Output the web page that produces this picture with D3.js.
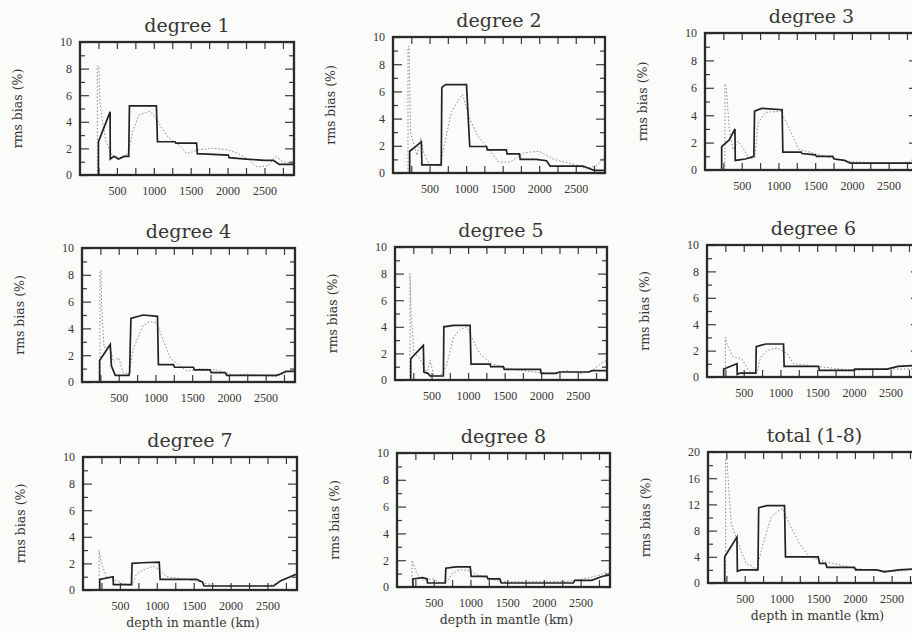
<!DOCTYPE html>
<html>
<head>
<meta charset="utf-8">
<script src="https://cdn.jsdelivr.net/npm/d3@7"></script>
<style>
  body { margin: 0; background: #fbfbfa; }
</style>
</head>
<body>
<div id="grafico"></div>
<script>
// ---- datos: [profundidad km, rms bias %] ----
const deg1Solid = [[250,0],[250,2.5],[408,4.75],[410,1.2],[460,1.4],[520,1.2],[600,1.4],[660,1.4],[670,5.2],[1035,5.2],[1050,2.5],[1290,2.5],[1300,2.4],[1580,2.4],[1590,1.6],[2010,1.5],[2020,1.3],[2250,1.2],[2500,1.1],[2620,1.1],[2700,0.8],[2900,0.8]]
const deg1Dotted = [[235,0],[235,8.2],[255,8.2],[270,5.5],[300,4.2],[350,2.6],[400,1.8],[450,1.4],[550,1.3],[650,1.6],[720,3.4],[800,4.5],[950,4.8],[1050,4.1],[1100,3.6],[1200,2.8],[1350,2.2],[1450,1.6],[1600,1.9],[1800,2.0],[2000,1.9],[2150,1.6],[2300,1.1],[2400,0.6],[2550,0.7],[2650,1.4],[2750,1.0],[2900,0.8]]

const deg2Solid = [[228,0],[228,1.6],[300,1.9],[388,2.3],[395,0.6],[660,0.6],[668,6.3],[720,6.5],[1005,6.5],[1050,1.95],[1280,1.95],[1290,1.7],[1550,1.7],[1560,1.4],[1730,1.4],[1740,1.0],[1960,1.0],[2100,0.9],[2150,0.5],[2600,0.5],[2650,0.4],[2750,0.2],[2900,0.2]]
const deg2Dotted = [[205,0],[205,9.3],[220,9.3],[240,3.0],[280,2.2],[330,1.3],[380,2.6],[420,1.5],[500,0.6],[640,0.5],[700,2.0],[800,4.5],[950,5.8],[1050,4.0],[1150,2.8],[1300,1.8],[1450,0.8],[1600,0.8],[1800,1.5],[2000,1.6],[2200,1.0],[2500,0.6],[2650,0.3],[2800,0.6],[2900,1.2]]

const deg3Solid = [[227,0],[227,1.7],[330,2.2],[408,3.0],[412,0.7],[550,0.8],[665,1.0],[675,4.3],[770,4.5],[1050,4.4],[1060,1.3],[1310,1.3],[1320,1.2],[1500,1.1],[1520,1.0],[1740,1.0],[1760,0.8],[1900,0.7],[1980,0.5],[2900,0.5]]
const deg3Dotted = [[272,0],[272,6.3],[290,6.0],[330,3.0],[380,1.5],[450,2.1],[520,1.6],[600,0.8],[680,0.9],[720,3.4],[820,4.2],[1030,4.3],[1150,3.0],[1280,1.5],[1500,1.2],[1700,0.9],[2000,0.6],[2500,0.5],[2800,0.6],[2900,1.5]]

const deg4Solid = [[240,0],[240,1.6],[385,2.8],[400,1.2],[453,0.5],[640,0.5],[648,0.7],[666,4.75],[830,5.0],[1028,4.9],[1040,1.3],[1246,1.3],[1260,1.1],[1518,1.1],[1530,0.9],[1744,0.9],[1760,0.7],[1950,0.7],[1970,0.5],[2650,0.5],[2700,0.6],[2780,0.8],[2900,0.8]]
const deg4Dotted = [[245,0],[245,8.3],[260,8.3],[265,6.0],[300,2.6],[380,2.6],[430,1.5],[500,1.8],[560,0.7],[640,0.6],[700,2.5],[830,4.2],[920,4.5],[1020,4.4],[1100,3.2],[1200,1.8],[1310,1.3],[1430,0.8],[1610,1.0],[1830,0.9],[2060,0.5],[2240,0.6],[2420,0.5],[2650,0.4],[2780,0.7],[2900,1.0]]

const deg5Solid = [[215,0],[215,1.6],[388,2.6],[395,0.6],[450,0.5],[480,0.3],[662,0.3],[668,4.0],[800,4.1],[1027,4.1],[1040,1.2],[1300,1.2],[1310,1.0],[1480,1.0],[1495,0.8],[1990,0.8],[2000,0.5],[2200,0.5],[2250,0.6],[2650,0.6],[2700,0.7],[2900,0.7]]
const deg5Dotted = [[205,0],[205,8.0],[220,5.0],[260,2.0],[330,1.7],[380,1.2],[440,0.5],[480,1.5],[530,0.3],[620,0.3],[700,1.0],[800,3.2],[890,3.8],[980,4.0],[1050,3.2],[1160,2.0],[1300,1.3],[1440,1.0],[1620,0.8],[1900,0.6],[2150,0.5],[2350,0.7],[2550,0.5],[2700,0.7],[2800,1.2],[2900,1.5]]

const deg6Solid = [[227,0],[227,0.6],[408,1.0],[412,0.2],[450,0.3],[665,0.3],[670,2.3],[800,2.5],[1042,2.5],[1050,0.8],[1518,0.8],[1530,0.5],[1994,0.5],[2010,0.6],[2450,0.6],[2600,0.8],[2900,0.9]]
const deg6Dotted = [[250,0],[250,3.0],[270,2.5],[360,1.5],[470,1.4],[580,0.4],[680,0.3],[730,1.5],[820,2.0],[950,2.2],[1090,1.8],[1180,1.0],[1500,0.8],[2000,0.5],[2500,0.6],[2900,0.6]]

const deg7Solid = [[227,0],[227,0.8],[408,1.0],[412,0.4],[657,0.4],[665,2.0],[800,2.05],[1033,2.1],[1045,0.8],[1540,0.8],[1620,0.6],[1640,0.3],[2583,0.3],[2680,0.7],[2810,1.0],[2900,1.2]]
const deg7Dotted = [[218,0],[218,3.0],[250,2.0],[317,1.0],[408,0.8],[544,0.5],[657,0.3],[725,1.2],[815,1.5],[950,1.8],[1042,1.5],[1133,1.0],[1405,0.8],[1586,0.6],[1813,0.3],[2500,0.3],[2630,0.5],[2765,0.9],[2900,1.3]]

const deg8Solid = [[217,0],[217,0.6],[350,0.7],[410,0.6],[415,0.3],[657,0.3],[665,1.4],[800,1.5],[997,1.5],[1010,0.8],[1223,0.8],[1240,0.6],[1400,0.6],[1420,0.3],[2400,0.3],[2420,0.5],[2650,0.5],[2800,0.8],[2900,0.9]]
const deg8Dotted = [[205,0],[205,2.0],[270,1.0],[360,0.5],[500,0.6],[590,0.3],[680,0.4],[750,1.0],[860,1.3],[1000,1.2],[1090,0.9],[1270,0.6],[1400,0.4],[2300,0.4],[2540,0.6],[2770,0.9],[2860,1.2]]

const totalSolid = [[227,0],[227,4.0],[394,7.0],[400,1.8],[450,2.0],[680,2.0],[690,11.5],[800,11.8],[1042,11.8],[1055,4.0],[1500,4.0],[1518,3.0],[1600,3.0],[1620,2.4],[1994,2.4],[2010,2.0],[2300,2.0],[2400,1.7],[2600,2.0],[2900,2.2]]
const totalDotted = [[240,0],[240,19.0],[255,19.0],[317,9.0],[430,5.5],[520,3.0],[610,2.5],[655,1.8],[750,6.0],[860,10.0],[950,11.0],[1020,11.3],[1110,9.0],[1245,6.0],[1380,4.0],[1515,3.5],[1700,3.0],[1925,2.4],[2150,2.0],[2600,1.8],[2900,2.2]]

const titulos = ["degree 1","degree 2","degree 3","degree 4","degree 5","degree 6","degree 7","degree 8","total (1-8)"]
const xTickLabels = [500, 1000, 1500, 2000, 2500]
const xTicks = [250, 500, 750, 1000, 1250, 1500, 1750, 2000, 2250, 2500, 2750]
const yLabels10 = [0, 2, 4, 6, 8, 10]
const yLabels20 = [0, 4, 8, 12, 16, 20]

// Dimensiones / posiciones de cada recuadro (escaneo algo irregular)
const cajas = [
  {x: 80,  y: 42,  w: 214, h: 133},
  {x: 393, y: 37,  w: 212, h: 136},
  {x: 705, y: 33,  w: 213, h: 137},
  {x: 82,  y: 248, w: 213, h: 134},
  {x: 395, y: 247, w: 212, h: 133},
  {x: 707, y: 245, w: 213, h: 132},
  {x: 83,  y: 457, w: 214, h: 133},
  {x: 397, y: 453, w: 213, h: 134},
  {x: 708, y: 452, w: 213, h: 131},
]
const series = [
  [deg1Solid, deg1Dotted], [deg2Solid, deg2Dotted], [deg3Solid, deg3Dotted],
  [deg4Solid, deg4Dotted], [deg5Solid, deg5Dotted], [deg6Solid, deg6Dotted],
  [deg7Solid, deg7Dotted], [deg8Solid, deg8Dotted], [totalSolid, totalDotted],
]

const tinta = "#363636"

const svg = d3.select("#grafico").append("svg")
  .attr("width", 912)
  .attr("height", 633)

const drawPanel = (i) => {
  const c = cajas[i]
  const esTotal = i === 8
  const yMax = esTotal ? 20 : 10
  const yMajor = esTotal ? yLabels20 : yLabels10
  const yMinor = d3.range(0, yMax + 0.1, esTotal ? 2 : 1).filter(v => !yMajor.includes(v))

  const g = svg.append("g").attr("transform", `translate(${c.x}, ${c.y})`)

  const x = d3.scaleLinear().domain([0, 2900]).range([0, c.w])
  const y = d3.scaleLinear().domain([0, yMax]).range([c.h, 0])

  // Ejes
  g.append("g").attr("transform", `translate(0,${c.h})`)
    .call(d3.axisBottom(x).tickValues(xTicks).tickSizeInner(-7).tickSizeOuter(0).tickPadding(11)
      .tickFormat(d => xTickLabels.includes(d) ? d : ""))
  g.append("g")
    .call(d3.axisTop(x).tickValues(xTicks).tickSizeInner(-7).tickSizeOuter(0).tickFormat(""))
  g.append("g")
    .call(d3.axisLeft(y).tickValues(yMajor).tickSizeInner(-9).tickSizeOuter(0).tickPadding(8))
  g.append("g")
    .call(d3.axisLeft(y).tickValues(yMinor).tickSizeInner(-5).tickSizeOuter(0).tickFormat(""))
  g.append("g").attr("transform", `translate(${c.w},0)`)
    .call(d3.axisRight(y).tickValues(yMajor).tickSizeInner(-9).tickSizeOuter(0).tickFormat(""))
  g.append("g").attr("transform", `translate(${c.w},0)`)
    .call(d3.axisRight(y).tickValues(yMinor).tickSizeInner(-5).tickSizeOuter(0).tickFormat(""))
  g.selectAll(".domain").remove()
  g.selectAll(".tick line").attr("stroke", "#3a3a3a").attr("stroke-width", 1.2)
  g.selectAll(".tick text")
    .attr("font-family", "'Liberation Serif', serif")
    .attr("font-size", 12)
    .attr("fill", tinta)

  // Lineas
  const linea = d3.line().x(d => x(d[0])).y(d => y(d[1]))
  g.append("path")
    .attr("d", linea(series[i][1]))
    .attr("fill", "none")
    .attr("stroke", "#8a8a8a")
    .attr("stroke-width", 1)
    .attr("stroke-dasharray", "1.5,2")
  g.append("path")
    .attr("d", linea(series[i][0]))
    .attr("fill", "none")
    .attr("stroke", "#222")
    .attr("stroke-width", 1.7)

  // Marco
  g.append("rect")
    .attr("width", c.w)
    .attr("height", c.h)
    .attr("fill", "none")
    .attr("stroke", "#2a2a2a")
    .attr("stroke-width", 2.3)

  // Titulo
  g.append("text")
    .attr("x", c.w / 2)
    .attr("y", -10)
    .attr("text-anchor", "middle")
    .attr("font-family", "'DejaVu Serif', serif")
    .attr("font-size", 19)
    .attr("fill", tinta)
    .text(titulos[i])

  // Etiqueta eje y
  g.append("text")
    .attr("transform", `translate(-62, ${c.h / 2}) rotate(-90)`)
    .attr("text-anchor", "middle")
    .attr("dy", "0.35em")
    .attr("font-family", "'DejaVu Serif', serif")
    .attr("font-size", 12.5)
    .attr("fill", tinta)
    .text("rms bias (%)")

  // Etiqueta eje x (solo fila inferior)
  if (i >= 6) {
    g.append("text")
      .attr("x", c.w / 2 + 3)
      .attr("y", c.h + 37)
      .attr("text-anchor", "middle")
      .attr("font-family", "'DejaVu Serif', serif")
      .attr("font-size", 12.5)
      .attr("fill", tinta)
      .text("depth in mantle (km)")
  }
}

d3.range(9).forEach(drawPanel)
</script>
</body>
</html>
